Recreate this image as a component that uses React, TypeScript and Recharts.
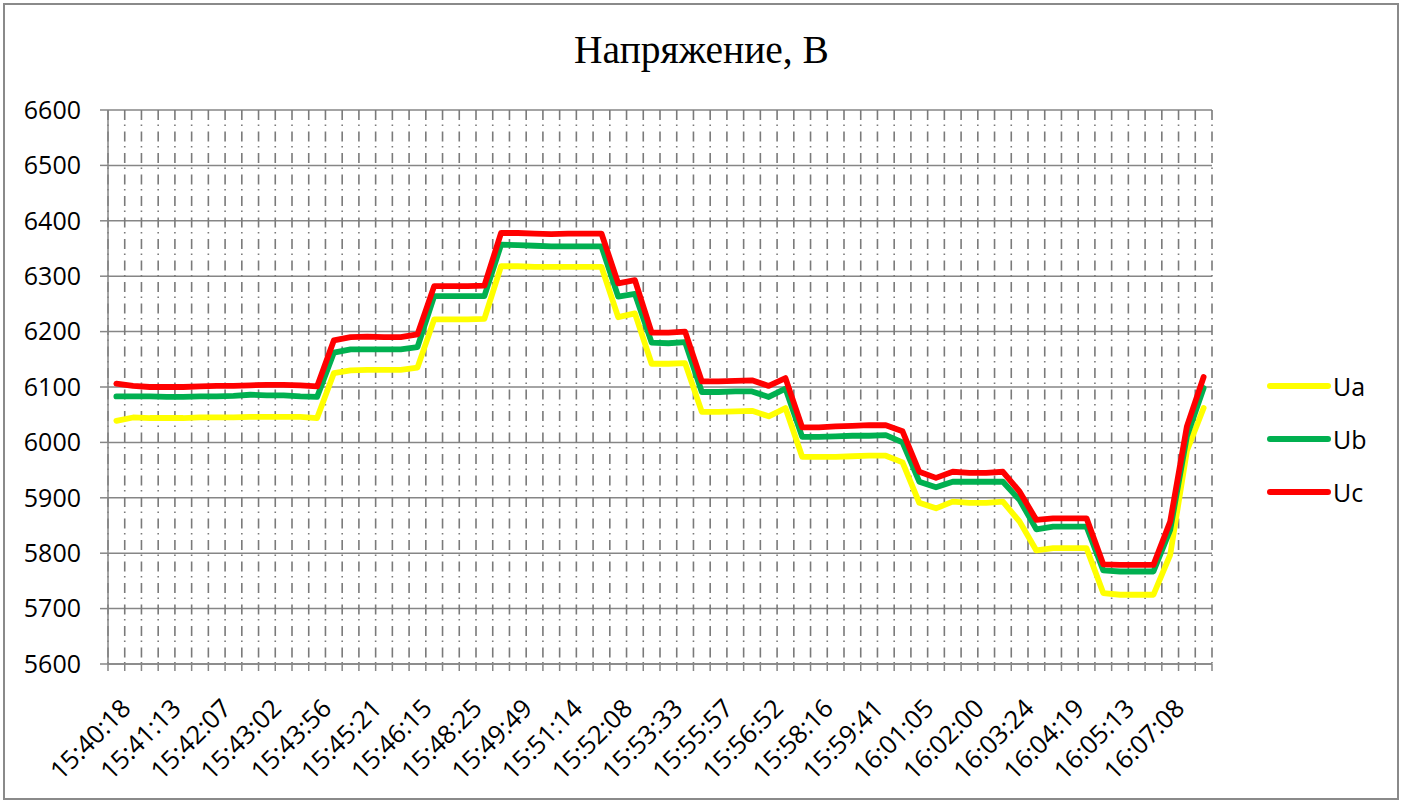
import {
  LineChart, Line, XAxis, YAxis, CartesianGrid, Legend,
} from 'recharts';

const timeLabels = [
  '15:40:18', '15:41:13', '15:42:07', '15:43:02', '15:43:56', '15:45:21',
  '15:46:15', '15:48:25', '15:49:49', '15:51:14', '15:52:08', '15:53:33',
  '15:55:57', '15:56:52', '15:58:16', '15:59:41', '16:01:05', '16:02:00',
  '16:03:24', '16:04:19', '16:05:13', '16:07:08',
];

const ua = [
  6039, 6045, 6044, 6044, 6044, 6045, 6045, 6045, 6046, 6046, 6046, 6046, 6044,
  6125, 6130, 6131, 6131, 6131, 6135, 6222, 6222, 6222, 6223,
  6318, 6318, 6317, 6317, 6317, 6317, 6317, 6226, 6233, 6142, 6142, 6143,
  6055, 6055, 6056, 6057, 6047, 6062, 5974, 5974, 5974, 5975, 5976, 5976, 5964,
  5891, 5881, 5893, 5891, 5891, 5893, 5857, 5805, 5809, 5809, 5809,
  5728, 5725, 5725, 5725, 5797, 5985, 6062,
];

const ub = [
  6083, 6083, 6083, 6082, 6082, 6083, 6083, 6084, 6086, 6085, 6085, 6083, 6082,
  6162, 6168, 6168, 6168, 6168, 6172, 6264, 6264, 6264, 6264,
  6357, 6356, 6355, 6354, 6354, 6354, 6354, 6263, 6268, 6180, 6179, 6181,
  6091, 6091, 6092, 6092, 6082, 6097, 6010, 6010, 6011, 6012, 6012, 6013, 6000,
  5929, 5919, 5929, 5929, 5929, 5929, 5896, 5843, 5848, 5848, 5848,
  5769, 5767, 5767, 5767, 5842, 6011, 6098,
];

const uc = [
  6106, 6102, 6100, 6100, 6100, 6101, 6102, 6102, 6103, 6104, 6104, 6103, 6101,
  6184, 6190, 6191, 6190, 6190, 6195, 6282, 6282, 6282, 6283,
  6378, 6378, 6377, 6376, 6377, 6377, 6377, 6287, 6293, 6198, 6198, 6200,
  6110, 6110, 6111, 6112, 6102, 6116, 6027, 6027, 6029, 6030, 6031, 6031, 6020,
  5947, 5936, 5947, 5945, 5945, 5947, 5911, 5860, 5863, 5863, 5863,
  5780, 5779, 5779, 5779, 5857, 6029, 6118,
];

const yTicks = [5600, 5700, 5800, 5900, 6000, 6100, 6200, 6300, 6400, 6500, 6600];

const seriesInfo = [
  { key: 'ua', name: 'Ua', color: '#FFFF00' },
  { key: 'ub', name: 'Ub', color: '#00B050' },
  { key: 'uc', name: 'Uc', color: '#FF0000' },
];

const chartData = ua.map((v, i) => ({ x: i + 0.5, ua: v, ub: ub[i], uc: uc[i] }));
const boundaryTicks = Array.from({ length: ua.length + 1 }, (_, i) => i);
const labelTicks = timeLabels.map((_, k) => k * 3 + 0.5);

const FONT = '"Open Sans", sans-serif';
const GRID = '#868686';

const TimeTick = (props: any) => {
  const { x, y, payload } = props;
  const idx = Math.round(payload.value - 0.5) / 3;
  return (
    <text
      transform={`translate(${x + 16},${y + 38}) rotate(-45)`}
      textAnchor="end"
      fontSize={25.5}
      fontFamily={FONT}
      fill="#000"
    >
      {timeLabels[idx]}
    </text>
  );
};

const NoTick = () => <g />;

const LegendBox = () => (
  <div style={{ fontFamily: FONT, fontSize: 25, color: '#000' }}>
    {seriesInfo.map((s) => (
      <div key={s.key} style={{ display: 'flex', alignItems: 'center', height: 52.7 }}>
        <svg width={66} height={10}>
          <line x1={4} y1={5} x2={62} y2={5} stroke={s.color} strokeWidth={6} strokeLinecap="round" />
        </svg>
        <span style={{ marginLeft: 1 }}>{s.name}</span>
      </div>
    ))}
  </div>
);

export default function App() {
  return (
    <div style={{ position: 'absolute', left: 0, top: 0, width: 1403, height: 802, background: '#fff' }}>
      <div
        style={{
          position: 'absolute', left: 3, top: 3, width: 1396, height: 797,
          border: '2px solid #8a8a8a', boxSizing: 'border-box',
        }}
      />
      <div
        style={{
          position: 'absolute', left: 0, top: 31, width: 1403, textAlign: 'center',
          fontFamily: '"Liberation Serif", serif', fontSize: 39.5, lineHeight: '38px', color: '#000',
        }}
      >
        Напряжение, В
      </div>
      <div style={{ position: 'absolute', left: 0, top: 0 }}>
        <LineChart width={1403} height={802} data={chartData} margin={{ top: 110, right: 191, left: 0, bottom: 0 }}>
          <CartesianGrid xAxisId="grid" horizontal={true} vertical={false} stroke={GRID} strokeWidth={1.5} />
          <CartesianGrid
            xAxisId="grid"
            horizontal={false}
            vertical={true}
            stroke="#7a7a7a"
            strokeWidth={1.6}
            strokeDasharray="10 4.5 1.5 5.5"
          />
          <XAxis
            xAxisId="grid"
            dataKey="x"
            type="number"
            domain={[0, ua.length]}
            ticks={boundaryTicks}
            interval={0}
            tick={<NoTick />}
            tickSize={7}
            height={8}
            axisLine={{ stroke: GRID, strokeWidth: 1.5 }}
            tickLine={{ stroke: GRID, strokeWidth: 1.5 }}
          />
          <XAxis
            xAxisId="lab"
            dataKey="x"
            type="number"
            domain={[0, ua.length]}
            ticks={labelTicks}
            interval={0}
            tick={<TimeTick />}
            tickSize={0}
            tickMargin={0}
            height={130}
            axisLine={false}
            tickLine={false}
          />
          <YAxis
            domain={[5600, 6600]}
            ticks={yTicks}
            interval={0}
            width={108}
            tickSize={8}
            tickMargin={19}
            axisLine={{ stroke: GRID, strokeWidth: 1.5 }}
            tickLine={{ stroke: GRID, strokeWidth: 1.5 }}
            tick={{ fontSize: 25, fontFamily: FONT, fill: '#000' }}
          />
          {seriesInfo.map((s) => (
            <Line
              key={s.key}
              xAxisId="grid"
              type="linear"
              dataKey={s.key}
              name={s.name}
              stroke={s.color}
              strokeWidth={5.8}
              strokeLinejoin="round"
              strokeLinecap="round"
              dot={false}
              activeDot={false}
              isAnimationActive={false}
            />
          ))}
          <Legend
            layout="vertical"
            align="center"
            verticalAlign="middle"
            content={<LegendBox />}
            wrapperStyle={{ left: 1266, top: 360, width: 130 }}
          />
        </LineChart>
      </div>
    </div>
  );
}
